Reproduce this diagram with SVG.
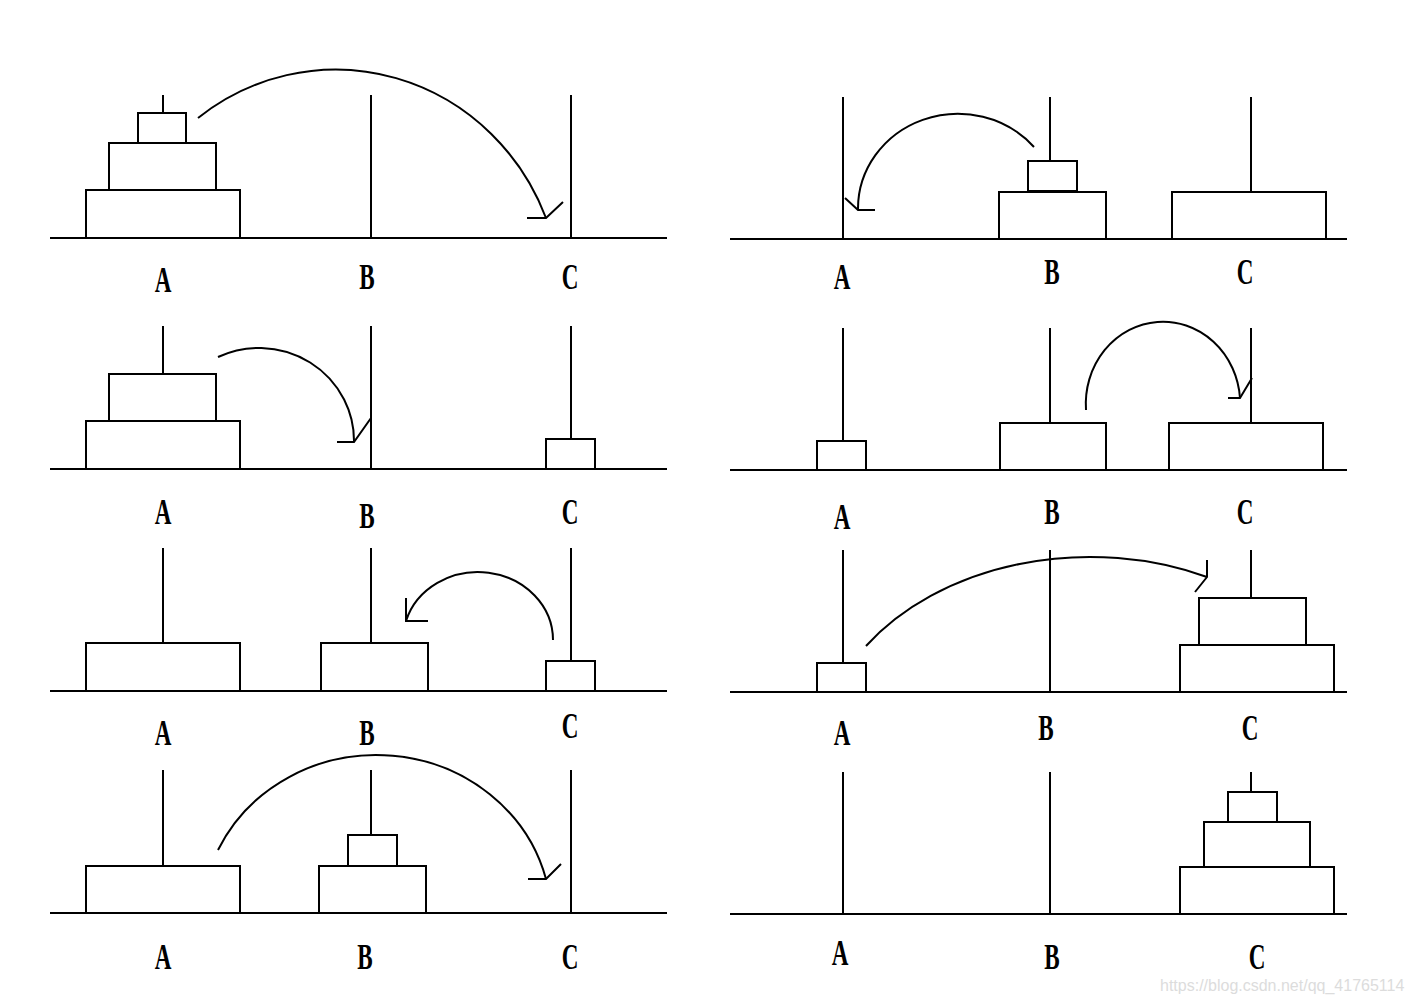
<svg xmlns="http://www.w3.org/2000/svg" width="1413" height="1002" viewBox="0 0 1413 1002">
<style>
.ln{stroke:#000;stroke-width:2;fill:none}
.dk{stroke:#000;stroke-width:2;fill:#fff}
.lb{font-family:"Liberation Serif","DejaVu Serif",serif;font-size:35px;font-weight:bold;fill:#000;text-anchor:middle}
.wm{font-family:"Liberation Sans",Arial,sans-serif;font-size:16px;fill:#dcdcdc}
</style>
<rect width="1413" height="1002" fill="#fff"/>

<!-- Panel 1 -->
<g id="panel1">
<line class="ln" x1="50" y1="238" x2="667" y2="238"/>
<g id="p1-A"><line class="ln" x1="163" y1="95" x2="163" y2="238"/>
<rect class="dk" x="86" y="190" width="154" height="48"/><rect class="dk" x="109" y="143" width="107" height="47"/><rect class="dk" x="138" y="113" width="48" height="30"/>
<text class="lb" transform="translate(163,292) scale(0.66,1)">A</text></g>
<g id="p1-B"><line class="ln" x1="371" y1="95" x2="371" y2="238"/><text class="lb" transform="translate(367,289) scale(0.66,1)">B</text></g>
<g id="p1-C"><line class="ln" x1="571" y1="95" x2="571" y2="238"/><text class="lb" transform="translate(570,289) scale(0.66,1)">C</text></g>
</g>

<!-- Panel 2 -->
<g id="panel2">
<line class="ln" x1="730" y1="239" x2="1347" y2="239"/>
<g id="p2-A"><line class="ln" x1="843" y1="97" x2="843" y2="239"/><text class="lb" transform="translate(842,289) scale(0.66,1)">A</text></g>
<g id="p2-B"><line class="ln" x1="1050" y1="97" x2="1050" y2="239"/>
<rect class="dk" x="999" y="192" width="107" height="47"/><rect class="dk" x="1028" y="161" width="49" height="30"/>
<text class="lb" transform="translate(1052,284) scale(0.66,1)">B</text></g>
<g id="p2-C"><line class="ln" x1="1251" y1="97" x2="1251" y2="239"/>
<rect class="dk" x="1172" y="192" width="154" height="47"/>
<text class="lb" transform="translate(1245,284) scale(0.66,1)">C</text></g>
</g>

<!-- Panel 3 -->
<g id="panel3">
<line class="ln" x1="50" y1="469" x2="667" y2="469"/>
<g id="p3-A"><line class="ln" x1="163" y1="326" x2="163" y2="469"/>
<rect class="dk" x="86" y="421" width="154" height="48"/><rect class="dk" x="109" y="374" width="107" height="47"/>
<text class="lb" transform="translate(163,524) scale(0.66,1)">A</text></g>
<g id="p3-B"><line class="ln" x1="371" y1="326" x2="371" y2="469"/><text class="lb" transform="translate(367,528) scale(0.66,1)">B</text></g>
<g id="p3-C"><line class="ln" x1="571" y1="326" x2="571" y2="469"/>
<rect class="dk" x="546" y="439" width="49" height="30"/>
<text class="lb" transform="translate(570,524) scale(0.66,1)">C</text></g>
</g>

<!-- Panel 4 -->
<g id="panel4">
<line class="ln" x1="730" y1="470" x2="1347" y2="470"/>
<g id="p4-A"><line class="ln" x1="843" y1="328" x2="843" y2="470"/>
<rect class="dk" x="817" y="441" width="49" height="29"/>
<text class="lb" transform="translate(842,529) scale(0.66,1)">A</text></g>
<g id="p4-B"><line class="ln" x1="1050" y1="328" x2="1050" y2="470"/>
<rect class="dk" x="1000" y="423" width="106" height="47"/>
<text class="lb" transform="translate(1052,524) scale(0.66,1)">B</text></g>
<g id="p4-C"><line class="ln" x1="1251" y1="328" x2="1251" y2="470"/>
<rect class="dk" x="1169" y="423" width="154" height="47"/>
<text class="lb" transform="translate(1245,524) scale(0.66,1)">C</text></g>
</g>

<!-- Panel 5 -->
<g id="panel5">
<line class="ln" x1="50" y1="691" x2="667" y2="691"/>
<g id="p5-A"><line class="ln" x1="163" y1="548" x2="163" y2="691"/>
<rect class="dk" x="86" y="643" width="154" height="48"/>
<text class="lb" transform="translate(163,745) scale(0.66,1)">A</text></g>
<g id="p5-B"><line class="ln" x1="371" y1="548" x2="371" y2="691"/>
<rect class="dk" x="321" y="643" width="107" height="48"/>
<text class="lb" transform="translate(367,745) scale(0.66,1)">B</text></g>
<g id="p5-C"><line class="ln" x1="571" y1="548" x2="571" y2="691"/>
<rect class="dk" x="546" y="661" width="49" height="30"/>
<text class="lb" transform="translate(570,738) scale(0.66,1)">C</text></g>
</g>

<!-- Panel 6 -->
<g id="panel6">
<line class="ln" x1="730" y1="692" x2="1347" y2="692"/>
<g id="p6-A"><line class="ln" x1="843" y1="550" x2="843" y2="692"/>
<rect class="dk" x="817" y="663" width="49" height="29"/>
<text class="lb" transform="translate(842,745) scale(0.66,1)">A</text></g>
<g id="p6-B"><line class="ln" x1="1050" y1="550" x2="1050" y2="692"/>
<text class="lb" transform="translate(1046,740) scale(0.66,1)">B</text></g>
<g id="p6-C"><line class="ln" x1="1251" y1="550" x2="1251" y2="692"/>
<rect class="dk" x="1180" y="645" width="154" height="47"/><rect class="dk" x="1199" y="598" width="107" height="47"/>
<text class="lb" transform="translate(1250,740) scale(0.66,1)">C</text></g>
</g>

<!-- Panel 7 -->
<g id="panel7">
<line class="ln" x1="50" y1="913" x2="667" y2="913"/>
<g id="p7-A"><line class="ln" x1="163" y1="770" x2="163" y2="913"/>
<rect class="dk" x="86" y="866" width="154" height="47"/>
<text class="lb" transform="translate(163,969) scale(0.66,1)">A</text></g>
<g id="p7-B"><line class="ln" x1="371" y1="770" x2="371" y2="913"/>
<rect class="dk" x="319" y="866" width="107" height="47"/><rect class="dk" x="348" y="835" width="49" height="31"/>
<text class="lb" transform="translate(365,969) scale(0.66,1)">B</text></g>
<g id="p7-C"><line class="ln" x1="571" y1="770" x2="571" y2="913"/>
<text class="lb" transform="translate(570,969) scale(0.66,1)">C</text></g>
</g>

<!-- Panel 8 -->
<g id="panel8">
<line class="ln" x1="730" y1="914" x2="1347" y2="914"/>
<g id="p8-A"><line class="ln" x1="843" y1="772" x2="843" y2="914"/>
<text class="lb" transform="translate(840,965) scale(0.66,1)">A</text></g>
<g id="p8-B"><line class="ln" x1="1050" y1="772" x2="1050" y2="914"/>
<text class="lb" transform="translate(1052,969) scale(0.66,1)">B</text></g>
<g id="p8-C"><line class="ln" x1="1251" y1="772" x2="1251" y2="914"/>
<rect class="dk" x="1180" y="867" width="154" height="47"/><rect class="dk" x="1204" y="822" width="106" height="45"/><rect class="dk" x="1228" y="792" width="49" height="30"/>
<text class="lb" transform="translate(1257,969) scale(0.66,1)">C</text></g>
</g>

<!-- Connectors -->
<g id="connectors">
<path class="ln" d="M198,118 A226,234 0 0 1 546,218"/><path class="ln" d="M527,218 H546 L563,202"/>
<path class="ln" d="M1034,147 A100,95 0 0 0 858,210"/><path class="ln" d="M875,210 H858 L845,198"/>
<path class="ln" d="M218,357 A95,93 0 0 1 354,442"/><path class="ln" d="M337,442 H354 L371,418"/>
<path class="ln" d="M1086,410 A77,82 0 1 1 1240,398"/><path class="ln" d="M1228,398 H1240 L1252,378"/>
<path class="ln" d="M553,640 A75,68 0 0 0 406,621"/><path class="ln" d="M428,621 H406 V598"/>
<path class="ln" d="M866,646 A272,206 0 0 1 1207,577"/><path class="ln" d="M1207,560 V577 L1195,592"/>
<path class="ln" d="M218,850 A175,165 0 0 1 546,879"/><path class="ln" d="M528,879 H546 L561,864"/>
</g>

<text class="wm" x="1160" y="991">https://blog.csdn.net/qq_41765114</text>
</svg>
